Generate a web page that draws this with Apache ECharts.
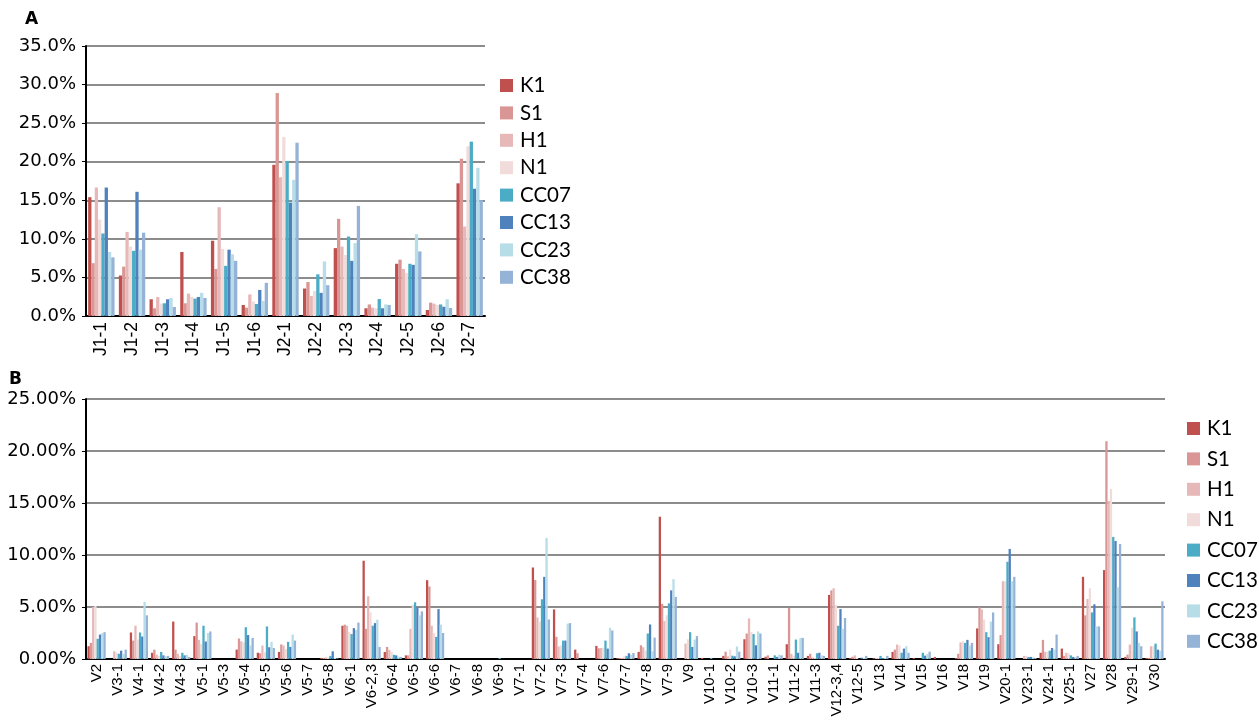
<!DOCTYPE html>
<html>
<head>
<meta charset="utf-8">
<script src="https://cdn.jsdelivr.net/npm/echarts@6/dist/echarts.min.js"></script>
<style>
  html, body { margin: 0; padding: 0; background: #fff; }
  #chart { width: 1259px; height: 722px; }
</style>
</head>
<body>
<div id="chart"></div>
<script>
// Series names and colours (shared by both panels)
const seriesNames = ['K1', 'S1', 'H1', 'N1', 'CC07', 'CC13', 'CC23', 'CC38'];
const seriesColors = ['#c0504d', '#d99694', '#e6b9b8', '#f2dcdb', '#4bacc6', '#4f81bd', '#b7dde8', '#95b3d7'];

// Panel A: J genes (percent)
const jCategories = ['J1-1', 'J1-2', 'J1-3', 'J1-4', 'J1-5', 'J1-6', 'J2-1', 'J2-2', 'J2-3', 'J2-4', 'J2-5', 'J2-6', 'J2-7'];
const jK1   = [15.4, 5.25, 2.17, 8.3, 9.76, 1.43, 19.6, 3.56, 8.8, 1.0, 6.77, 0.78, 17.2];
const jS1   = [6.85, 6.4, 1.0, 1.65, 6.1, 1.08, 28.9, 4.4, 12.6, 1.5, 7.3, 1.73, 20.4];
const jH1   = [16.65, 10.9, 2.47, 2.9, 14.1, 2.8, 18.0, 2.6, 9.0, 1.08, 6.1, 1.6, 11.6];
const jN1   = [12.5, 9.0, 1.6, 2.47, 8.7, 1.9, 23.2, 3.25, 7.9, 1.0, 5.6, 1.43, 22.0];
const jCC07 = [10.7, 8.45, 1.65, 2.25, 6.5, 1.56, 20.1, 5.4, 10.3, 2.2, 6.77, 1.5, 22.6];
const jCC13 = [16.65, 16.1, 2.17, 2.47, 8.6, 3.38, 14.7, 3.0, 7.15, 1.0, 6.63, 1.2, 16.5];
const jCC23 = [8.3, 8.6, 2.34, 3.0, 8.0, 1.95, 17.65, 7.07, 9.45, 1.5, 10.6, 2.17, 19.2];
const jCC38 = [7.6, 10.8, 1.17, 2.34, 7.15, 4.3, 22.46, 4.0, 14.27, 1.43, 8.37, 1.04, 15.0];

// Panel B: V genes (percent)
const vCategories = ['V2', 'V3-1', 'V4-1', 'V4-2', 'V4-3', 'V5-1', 'V5-3', 'V5-4', 'V5-5', 'V5-6', 'V5-7', 'V5-8',
  'V6-1', 'V6-2,3', 'V6-4', 'V6-5', 'V6-6', 'V6-7', 'V6-8', 'V6-9', 'V7-1', 'V7-2', 'V7-3', 'V7-4', 'V7-6', 'V7-7',
  'V7-8', 'V7-9', 'V9', 'V10-1', 'V10-2', 'V10-3', 'V11-1', 'V11-2', 'V11-3', 'V12-3,4', 'V12-5', 'V13', 'V14',
  'V15', 'V16', 'V18', 'V19', 'V20-1', 'V23-1', 'V24-1', 'V25-1', 'V27', 'V28', 'V29-1', 'V30'];
const vK1   = [1.23,0,2.55,0.6,3.6,2.2,0,0.9,0.6,0.68,0,0.1,3.2,9.45,0.68,0.35,7.58,0,0,0,0,8.8,4.77,0.9,1.26,0.1,0.68,13.68,0,0.1,0.3,1.9,0.22,1.42,0.3,6.16,0.1,0,0.68,0.1,0.2,0.1,2.94,1.42,0,0.6,1.0,7.9,8.55,0.2,0.1];
const vS1   = [1.55,0,1.77,0.9,0.9,3.5,0,1.97,0.55,1.4,0,0.1,3.3,2.9,1.16,0.35,6.97,0,0,0,0,7.6,2.13,0.55,1.03,0.1,1.32,5.3,0,0,0.7,2.45,0.35,4.9,0.5,6.6,0.22,0.05,0.9,0,0,0.5,4.97,2.3,0,1.84,0.3,4.2,20.94,0.42,0.1];
const vH1   = [5.0,0.75,3.2,0.42,0.5,1.84,0,1.7,1.3,1.3,0,0.15,3.2,6.03,0.87,2.9,3.2,0,0,0,0,4.0,1.2,0,1.06,0.1,1.13,3.65,1.48,0,0.26,3.9,0,0.5,0.15,6.8,0.35,0.1,1.39,0,0,1.6,4.77,7.48,0.3,0.7,0.6,5.77,15.2,1.39,1.23];
const vN1   = [5.1,0.6,1.87,0.3,0.26,1.45,0,1.6,0.65,0.97,0,0.15,2.6,4.48,0.68,5.2,2.5,0,0,0,0,3.6,1.3,0,1.06,0.26,0.8,4.2,1.9,0,0.9,2.6,0,0.3,0.1,5.2,0.1,0.1,1.3,0,0,1.7,3.8,7.48,0.3,0.7,0.55,6.8,16.35,3.0,1.23];
const vCC07 = [1.94,0.5,2.55,0.68,0.6,3.2,0,3.06,3.13,1.65,0,0.3,2.4,3.2,0.4,5.45,2.13,0,0,0.1,0,5.74,1.77,0,1.77,0.3,2.45,5.35,2.58,0.1,0.32,2.4,0.35,1.87,0.55,3.2,0,0.3,0.6,0.6,0,1.55,2.58,9.35,0.2,0.8,0.35,4.48,11.74,4.0,1.48];
const vCC13 = [2.35,0.8,2.16,0.35,0.35,1.68,0,2.3,1.13,1.16,0,0.74,2.97,3.45,0.35,4.97,4.8,0,0,0,0,7.9,1.77,0,1.0,0.55,3.32,6.6,1.16,0,0.26,1.32,0.2,0.6,0.6,4.8,0.13,0.1,1.0,0.32,0,1.84,2.1,10.58,0.2,1.06,0.2,5.26,11.35,2.65,0.9];
const vCC23 = [2.48,0.5,5.5,0.26,0.4,2.5,0,1.3,1.65,2.35,0,0.1,2.8,3.77,0.23,4.2,3.3,0,0,0,0,11.65,3.4,0,3.0,0.42,0.74,7.68,1.87,0,1.2,2.65,0.42,2.03,0.35,2.9,0.1,0.1,1.23,0.48,0,1.3,3.6,7.48,0.15,0.9,0.2,3.13,6.9,1.55,0.8];
const vCC38 = [2.58,0.9,4.2,0.3,0.2,2.65,0,2.03,1.06,1.77,0,0.05,3.5,1.16,0.2,4.58,2.5,0,0,0,0,3.8,3.45,0,2.74,0.58,2.06,5.97,2.2,0,0.7,2.45,0.35,2.03,0.3,3.94,0.3,0.3,0.6,0.7,0,1.55,4.48,7.9,0.1,2.35,0.3,3.13,11.06,1.23,5.55];

// Tick settings
const jMax = 35, jStep = 5;
const vMax = 25, vStep = 5;

const jData = [jK1, jS1, jH1, jN1, jCC07, jCC13, jCC23, jCC38];
const vData = [vK1, vS1, vH1, vN1, vCC07, vCC13, vCC23, vCC38];

const axisFont = 'DejaVu Sans';
const catFont = 'Liberation Sans';
const legendFont = 'Lato';

function valueAxis(gridIndex, max, step, digits) {
  return {
    type: 'value', gridIndex: gridIndex, min: 0, max: max, interval: step,
    axisLine: { show: true, lineStyle: { color: '#000', width: 2 } },
    axisTick: { show: true, length: 4, lineStyle: { color: '#000', width: 1 } },
    splitLine: { show: true, lineStyle: { color: '#8c8c8c', width: 2 } },
    axisLabel: {
      color: '#000', fontFamily: axisFont, fontSize: 18, margin: 10,
      formatter: function (v) { return v.toFixed(digits) + '%'; }
    }
  };
}

function categoryAxis(gridIndex, cats, fontSize, margin) {
  return {
    type: 'category', gridIndex: gridIndex, data: cats,
    axisLine: { show: true, lineStyle: { color: '#000', width: 2 } },
    axisTick: { show: false },
    axisLabel: { interval: 0, rotate: 90, color: '#000', fontFamily: catFont, fontSize: fontSize, margin: margin }
  };
}

const series = [];
seriesNames.forEach(function (name, i) {
  series.push({
    name: name, type: 'bar', xAxisIndex: 0, yAxisIndex: 0, data: jData[i],
    itemStyle: { color: seriesColors[i] }, barGap: '0%', barCategoryGap: '14%', animation: false
  });
});
seriesNames.forEach(function (name, i) {
  series.push({
    name: name, type: 'bar', xAxisIndex: 1, yAxisIndex: 1, data: vData[i],
    itemStyle: { color: seriesColors[i] }, barGap: '0%', barCategoryGap: '14%', animation: false
  });
});

const legendBase = {
  orient: 'vertical', icon: 'rect', itemWidth: 13, itemHeight: 13,
  data: seriesNames, selectedMode: false,
  textStyle: { color: '#000', fontFamily: legendFont, fontSize: 20.5, padding: [0, 0, 0, 2] }
};

const option = {
  animation: false,
  backgroundColor: '#fff',
  grid: [
    { left: 86, top: 46, width: 399, height: 270, containLabel: false },
    { left: 86, top: 399, width: 1079, height: 260, containLabel: false }
  ],
  xAxis: [categoryAxis(0, jCategories, 17.5, 6), categoryAxis(1, vCategories, 15, 5)],
  yAxis: [valueAxis(0, jMax, jStep, 1), valueAxis(1, vMax, vStep, 2)],
  legend: [
    Object.assign({}, legendBase, { left: 495, top: 70, itemGap: 6.4 }),
    Object.assign({}, legendBase, { left: 1182, top: 413, itemGap: 9.4 })
  ],
  graphic: [
    { type: 'text', left: 25, top: 11, style: { text: 'A', font: 'bold 17px "DejaVu Sans"', fill: '#000' } },
    { type: 'text', left: 9, top: 371, style: { text: 'B', font: 'bold 17px "DejaVu Sans"', fill: '#000' } }
  ],
  series: series
};

const chart = echarts.init(document.getElementById('chart'), null, { renderer: 'canvas' });
chart.setOption(option);
</script>
</body>
</html>
